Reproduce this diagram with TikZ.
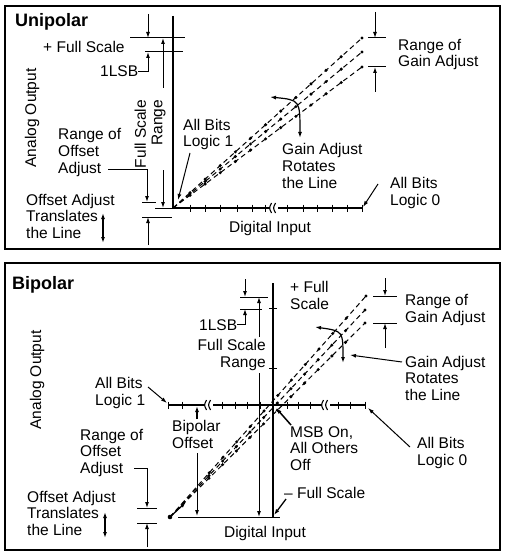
\documentclass[tikz,border=0pt]{standalone}
\usepackage{fontspec}
\setmainfont{Liberation Sans}
\usetikzlibrary{arrows.meta,calc}
\tikzset{
  lbl/.style={font=\fontsize{15.5}{16.5}\selectfont, align=left, inner sep=0pt, anchor=base west},
  ttl/.style={font=\fontsize{18}{20}\selectfont\bfseries, inner sep=0pt, anchor=base west},
  thinln/.style={line width=1pt},
  arr/.style={line width=1pt, -{Latex[length=6pt,width=4pt]}},
  darr/.style={line width=1.2pt, {Latex[length=6pt,width=4pt]}-{Latex[length=6pt,width=4pt]}},
  axisln/.style={line width=1.5pt},
  frameln/.style={line width=2.5pt},
  dl/.style={line width=1pt, dash pattern=on 5pt off 3.5pt},
  dotmk/.style={fill=black},
  tickln/.style={line width=1pt},
}
\begin{document}
\begin{tikzpicture}[x=1pt,y=-1pt]
\useasboundingbox (0,0) rectangle (504,556);
\fill[white] (0,0) rectangle (504,556);
% ================= UNIPOLAR =================
\draw[frameln] (5,6) rectangle (500,249);
\node[ttl] (uT) at (15,27) {Unipolar};
\node[lbl, rotate=90, anchor=center] (uAO) at (32,118) {Analog Output};
% axes
\coordinate (uO) at (173,208);
\coordinate (uYt) at (173,16);
\coordinate (uXe) at (362,208);
\coordinate (uXl) at (155,208);
\draw[axisln] (uYt) -- (uO) -- (uXe);
\draw[thinln] (uXl) -- (uO);
\foreach \x in {190,205,220,237,252,265,287,303,317,332,347,362}
  \draw[tickln] (\x,204.5) -- (\x,211.5);
\fill[white] (270,203) rectangle (278,213);
\draw[line width=1.1pt] (271.5,203) .. controls (269,208) .. (271.5,213);
\draw[line width=1.1pt] (275.5,203) .. controls (273,208) .. (275.5,213);
% reference lines left
\coordinate (uFSl) at (130,38); \coordinate (uFSr) at (185,38);
\coordinate (uLl) at (145,52); \coordinate (uLr) at (183,52);
\draw[thinln] (uFSl) -- (uFSr);
\draw[thinln] (uLl) -- (uLr);
\coordinate (uA1s) at (148,14); \coordinate (uA1e) at (148,38);
\draw[arr] (uA1s) -- (uA1e);
\node[lbl] (uFS) at (43,53) {+ Full Scale};
\node[lbl] (uLSB) at (100,77) {1LSB};
\coordinate (uLSBt) at (148,52);
\draw[arr] (uLSB.east) -| (uLSBt);
% full scale range
\coordinate (uR1s) at (163,88); \coordinate (uR1e) at (163,38);
\coordinate (uR2s) at (163,170); \coordinate (uR2e) at (163,208);
\draw[arr] (uR1s) -- (uR1e);
\draw[arr] (uR2s) -- (uR2e);
\node[lbl, rotate=90, align=right, anchor=center] (uFSR) at (150,134) {Full Scale\\Range};
% offset adjust
\node[lbl] (uROA) at (58,173) {Range of\\Offset\\Adjust};
\coordinate (uROAs) at (108,169); \coordinate (uROAe) at (147,202);
\draw[arr] (uROAs) -| (uROAe);
\coordinate (uOt1) at (142,202); \coordinate (uOt2) at (156,202);
\coordinate (uOb1) at (142,217); \coordinate (uOb2) at (172,217);
\draw[thinln] (uOt1) -- (uOt2);
\draw[thinln] (uOb1) -- (uOb2);
\coordinate (uOAs) at (148,245); \coordinate (uOAe) at (148,217);
\draw[arr] (uOAs) -- (uOAe);
\node[lbl] (uOAT) at (26,238) {Offset Adjust\\Translates\\the Line};
\coordinate (uDA1) at (103,213); \coordinate (uDA2) at (103,243);
\draw[darr] (uDA1) -- (uDA2);
% all bits logic 1
\node[lbl] (uAB1) at (183,147) {All Bits\\Logic 1};
\coordinate (uAB1s) at (190,153); \coordinate (uAB1e) at (178,200);
\draw[arr] (uAB1s) -- (uAB1e);
% transfer lines
\coordinate (uE1) at (362,38); \coordinate (uE2) at (362,52); \coordinate (uE3) at (362,67);
\draw[dl] (uO) -- (uE1);
\draw[dl] (uO) -- (uE2);
\draw[dl] (uO) -- (uE3);
\foreach \t in {0.09,0.17,0.25,0.33,0.41,0.49,0.57,0.65,0.73,0.81,0.89,1.0}{
  \fill[dotmk] ($(uO)!\t!(uE1)$) circle (1.7pt);
  \fill[dotmk] ($(uO)!\t!(uE2)$) circle (1.7pt);
  \fill[dotmk] ($(uO)!\t!(uE3)$) circle (1.7pt);
}
% gain adjust arc
\coordinate (ug1) at (300,138); \coordinate (ugc) at (300,100); \coordinate (ug2) at (270,97);
\draw[darr] (ug1) .. controls (ugc) .. (ug2);
\node[lbl] (uGA) at (282,188) {Gain Adjust\\Rotates\\the Line};
\node[lbl] (uRGA) at (398,67) {Range of\\Gain Adjust};
\coordinate (uG1l) at (368,38); \coordinate (uG1r) at (386,38);
\coordinate (uG2l) at (368,67); \coordinate (uG2r) at (386,67);
\draw[thinln] (uG1l) -- (uG1r);
\draw[thinln] (uG2l) -- (uG2r);
\coordinate (uGA1s) at (375,12); \coordinate (uGA1e) at (375,38);
\coordinate (uGA2s) at (375,92); \coordinate (uGA2e) at (375,67);
\draw[arr] (uGA1s) -- (uGA1e);
\draw[arr] (uGA2s) -- (uGA2e);
% all bits logic 0
\node[lbl] (uAB0) at (390,205) {All Bits\\Logic 0};
\coordinate (uAB0s) at (378,184); \coordinate (uAB0e) at (363,207);
\draw[arr] (uAB0s) -- (uAB0e);
\node[lbl, anchor=center] (uDI) at (270,228) {Digital Input};
% ================= BIPOLAR =================
\draw[frameln] (5,263) rectangle (500,550);
\node[ttl] (bT) at (12,289) {Bipolar};
\node[lbl, rotate=90, anchor=center] (bAO) at (37,380) {Analog Output};
% axes
\coordinate (bYt) at (273,283); \coordinate (bYb) at (273,517);
\coordinate (bXl) at (168,405); \coordinate (bXr) at (365,405);
\draw[axisln] (bYt) -- (bYb);
\draw[axisln] (bXl) -- (bXr);
\foreach \y in {308,368} \draw[tickln] (269,\y) -- (277,\y);
\foreach \x in {168,182,222,235,247,260,287,298,310,338,350,365}
  \draw[tickln] (\x,401.5) -- (\x,408.5);
\fill[white] (205,400) rectangle (213,410);
\draw[line width=1.1pt] (206.5,400) .. controls (204,405) .. (206.5,410);
\draw[line width=1.1pt] (210.5,400) .. controls (208,405) .. (210.5,410);
\fill[white] (322,400) rectangle (330,410);
\draw[line width=1.1pt] (323.5,400) .. controls (321,405) .. (323.5,410);
\draw[line width=1.1pt] (327.5,400) .. controls (325,405) .. (327.5,410);
% baseline
\coordinate (bBl) at (178,517); \coordinate (bBr) at (280,517);
\draw[thinln] (bBl) -- (bBr);
% top reference lines
\coordinate (bFSl) at (240,297); \coordinate (bFSr) at (268,297);
\coordinate (bLl) at (240,309); \coordinate (bLr) at (262,309);
\draw[thinln] (bFSl) -- (bFSr);
\draw[thinln] (bLl) -- (bLr);
\coordinate (bA1s) at (245,279); \coordinate (bA1e) at (245,297);
\draw[arr] (bA1s) -- (bA1e);
\node[lbl] (bLSB) at (199,330) {1LSB};
\coordinate (bLSBt) at (245,309);
\draw[arr] (bLSB.east) -| (bLSBt);
\coordinate (bR1s) at (259,337); \coordinate (bR1e) at (259,297);
\coordinate (bR2s) at (259,373); \coordinate (bR2e) at (259,517);
\draw[arr] (bR1s) -- (bR1e);
\draw[arr] (bR2s) -- (bR2e);
\node[lbl, align=right, anchor=base east] (bFSR) at (266,367) {Full Scale\\Range};
\node[lbl] (bPFS) at (290,309) {+ Full\\Scale};
\node[lbl] (bMFS) at (284,498) {-- Full Scale};
\coordinate (bMFSs) at (286,499); \coordinate (bMFSe) at (274,515);
\draw[arr, line width=1.3pt] (bMFSs) -- (bMFSe);
% bipolar offset
\node[lbl] (bBO) at (172,448) {Bipolar\\Offset};
\coordinate (bBO1s) at (197,419); \coordinate (bBO1e) at (197,406);
\draw[arr, line width=1.6pt] (bBO1s) -- (bBO1e);
\coordinate (bBO2s) at (197,453); \coordinate (bBO2e) at (197,516);
\draw[arr] (bBO2s) -- (bBO2e);
% transfer lines
\coordinate (bS) at (170,517);
\coordinate (bE1) at (366,296); \coordinate (bE2) at (365,310); \coordinate (bE3) at (365,323);
\draw[dl] (bS) -- (bE1);
\draw[dl] (bS) -- (bE2);
\draw[dl] (bS) -- (bE3);
\foreach \t in {0.2,0.27,0.34,0.41,0.48,0.55,0.62,0.69,0.76,0.83,0.9,1.0}{
  \fill[dotmk] ($(bS)!\t!(bE1)$) circle (1.7pt);
  \fill[dotmk] ($(bS)!\t!(bE2)$) circle (1.7pt);
  \fill[dotmk] ($(bS)!\t!(bE3)$) circle (1.7pt);
}
\fill (bS) circle (2.3pt);
\coordinate (bSa) at (186,502);
\draw[arr, line width=1.3pt] (bS) -- (bSa);
% gain adjust
\coordinate (bg1) at (343,363); \coordinate (bgc) at (343,331); \coordinate (bg2) at (315,327);
\draw[darr] (bg1) .. controls (bgc) .. (bg2);
\node[lbl] (bGA) at (405,400) {Gain Adjust\\Rotates\\the Line};
\coordinate (bGAs) at (402,362); \coordinate (bGAe) at (350,355);
\draw[arr] (bGAs) -- (bGAe);
\node[lbl] (bRGA) at (405,322) {Range of\\Gain Adjust};
\coordinate (bG1l) at (373,296); \coordinate (bG1r) at (397,296);
\coordinate (bG2l) at (373,323); \coordinate (bG2r) at (397,323);
\draw[thinln] (bG1l) -- (bG1r);
\draw[thinln] (bG2l) -- (bG2r);
\coordinate (bGA1s) at (385,278); \coordinate (bGA1e) at (385,296);
\coordinate (bGA2s) at (385,348); \coordinate (bGA2e) at (385,323);
\draw[arr] (bGA1s) -- (bGA1e);
\draw[arr] (bGA2s) -- (bGA2e);
% all bits
\node[lbl] (bAB1) at (95,405) {All Bits\\Logic 1};
\coordinate (bAB1s) at (148,387); \coordinate (bAB1e) at (167,403);
\draw[arr] (bAB1s) -- (bAB1e);
\node[lbl] (bAB0) at (417,465) {All Bits\\Logic 0};
\coordinate (bAB0s) at (410,447); \coordinate (bAB0e) at (368,408);
\draw[arr] (bAB0s) -- (bAB0e);
\node[lbl] (bMSB) at (290,470) {MSB On,\\All Others\\Off};
\coordinate (bMSBs) at (291,425); \coordinate (bMSBe) at (276,408);
\draw[arr, line width=1.5pt] (bMSBs) -- (bMSBe);
% offset adjust
\node[lbl] (bROA) at (80,473) {Range of\\Offset\\Adjust};
\coordinate (bROAs) at (134,468); \coordinate (bROAe) at (147,508);
\draw[arr] (bROAs) -| (bROAe);
\coordinate (bOt1) at (137,508); \coordinate (bOt2) at (157,508);
\coordinate (bOb1) at (137,523); \coordinate (bOb2) at (157,523);
\draw[thinln] (bOt1) -- (bOt2);
\draw[thinln] (bOb1) -- (bOb2);
\coordinate (bOAs) at (147,547); \coordinate (bOAe) at (147,523);
\draw[arr] (bOAs) -- (bOAe);
\node[lbl] (bOAT) at (27,535) {Offset Adjust\\Translates\\the Line};
\coordinate (bDA1) at (105,512); \coordinate (bDA2) at (105,538);
\draw[darr] (bDA1) -- (bDA2);
\node[lbl, anchor=center] (bDI) at (265,533) {Digital Input};
\end{tikzpicture}
\end{document}
